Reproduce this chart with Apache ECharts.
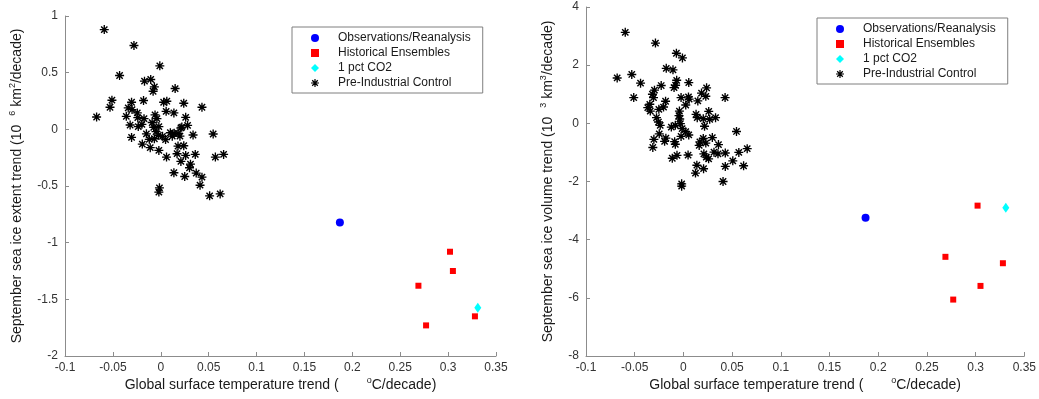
<!DOCTYPE html>
<html>
<head>
<meta charset="utf-8">
<script src="https://cdn.jsdelivr.net/npm/echarts@6/dist/echarts.min.js"></script>
<style>
  html, body { margin: 0; padding: 0; background: #fff; }
  #chart { width: 1039px; height: 399px; }
</style>
</head>
<body>
<div id="chart"></div>
<script>
// Series names shared by both panels
const seriesNames = ['Observations/Reanalysis', 'Historical Ensembles', '1 pct CO2', 'Pre-Industrial Control'];

// Global surface temperature trends (°C/decade)
const obsX = [0.187];
const histX = [0.269, 0.277, 0.302, 0.305, 0.328];
const co2X = [0.331];

// September sea ice extent trends (10^6 km^2/decade)
const obsExtent = [-0.823];
const histExtent = [-1.38, -1.73, -1.08, -1.25, -1.65];
const co2Extent = [-1.575];

// September sea ice volume trends (10^3 km^3/decade)
const obsVolume = [-3.25];
const histVolume = [-4.59, -6.06, -2.83, -5.59, -4.81];
const co2Volume = [-2.90];

// Pre-industrial control segments: [temperature trend, extent trend]
const piExtent = [
  [-0.059, 0.88], [-0.028, 0.74], [-0.001, 0.56], [-0.043, 0.475], [-0.017, 0.425],
  [-0.0105, 0.44], [-0.0067, 0.375], [-0.008, 0.336], [0.015, 0.36], [-0.051, 0.257],
  [-0.053, 0.195], [-0.067, 0.109], [-0.0305, 0.239], [-0.018, 0.254], [0.003, 0.239],
  [0.0063, 0.248], [0.024, 0.23], [0.043, 0.195], [-0.034, 0.189], [-0.030, 0.174],
  [-0.0245, 0.145], [-0.036, 0.115], [-0.024, 0.103], [-0.0175, 0.094], [-0.006, 0.127],
  [-0.004, 0.094], [0.0056, 0.159], [0.0137, 0.145], [0.026, 0.106], [-0.032, 0.038],
  [-0.0235, 0.024], [-0.0197, 0.044], [-0.0074, 0.018], [-0.002, 0.024], [0.028, 0.035],
  [0.021, 0.012], [0.018, -0.035], [-0.0025, -0.053], [0.0018, -0.062], [-0.0067, -0.083],
  [-0.012, -0.088], [-0.0305, -0.071], [0.014, -0.035], [0.0337, -0.05], [0.0547, -0.041],
  [-0.0193, -0.13], [-0.011, -0.162], [-0.002, -0.186], [0.006, -0.245], [0.018, -0.148],
  [0.024, -0.145], [0.017, -0.215], [0.026, -0.23], [0.036, -0.221], [0.021, -0.283],
  [0.031, -0.307], [0.030, -0.339], [0.057, -0.245], [0.0656, -0.221], [0.0137, -0.383],
  [0.025, -0.416], [0.037, -0.386], [0.043, -0.422], [0.041, -0.493], [-0.0014, -0.516],
  [-0.002, -0.554], [0.051, -0.587], [0.062, -0.57], [-0.005, -0.02], [0.010, -0.03],
  [0.020, -0.06], [0.005, -0.09], [-0.015, -0.04], [0.022, 0.02], [0.012, -0.06],
  [-0.009, 0.06]
];

// Pre-industrial control segments: [temperature trend, volume trend]
const piVolume = [
  [-0.0597, 3.13], [-0.0287, 2.76], [-0.0072, 2.41], [-0.001, 2.25], [-0.0176, 1.89],
  [-0.0107, 1.84], [-0.068, 1.56], [-0.053, 1.68], [-0.044, 1.38], [-0.051, 0.886],
  [-0.0069, 1.48], [-0.008, 1.31], [-0.0096, 1.23], [0.0055, 1.40], [0.0238, 1.22],
  [0.0186, 1.04], [0.023, 0.93], [0.0428, 0.886], [0.0148, 0.77], [0.0052, 0.908],
  [0.0059, 0.83], [-0.0024, 0.886], [-0.0228, 1.30], [-0.0297, 1.14], [-0.0318, 1.0],
  [-0.0307, 0.886], [-0.0183, 0.76], [0.0024, 0.63], [-0.0366, 0.54], [-0.034, 0.42],
  [-0.0252, 0.48], [-0.0204, 0.56], [-0.0041, 0.42], [-0.0045, 0.265], [-0.0276, 0.195],
  [-0.0256, 0.045], [-0.0238, -0.07], [0.026, 0.41], [0.013, 0.31], [0.0142, 0.195],
  [0.0204, 0.16], [0.027, 0.14], [0.033, 0.195], [0.0217, -0.10], [-0.0038, 0.15],
  [-0.0031, -0.01], [-0.0124, -0.13], [-0.0083, -0.07], [-0.0013, -0.18], [0.0024, -0.29],
  [0.0055, -0.40], [-0.0024, -0.45], [-0.0248, -0.36], [-0.018, -0.51], [-0.0303, -0.55],
  [-0.0193, -0.62], [-0.009, -0.63], [-0.0314, -0.83], [-0.0083, -0.72], [0.0169, -0.64],
  [0.0204, -0.52], [0.0297, -0.49], [0.023, -0.68], [0.0162, -0.76], [0.036, -0.73],
  [0.0545, -0.28], [0.0048, -1.09], [-0.0066, -1.10], [-0.0114, -1.20], [0.021, -1.05],
  [0.0235, -1.16], [0.0259, -1.22], [0.0314, -0.99], [0.0355, -1.05], [0.043, -1.02],
  [0.0569, -1.0], [0.0655, -0.87], [0.0507, -1.29], [0.0138, -1.44], [0.0207, -1.56],
  [0.0124, -1.71], [0.043, -1.48], [0.0618, -1.46], [0.0407, -2.0], [-0.0018, -2.08],
  [-0.0018, -2.16], [-0.0345, 0.655]
];

// Axis ranges and tick steps
const xRange = [-0.1, 0.35], xStep = 0.05;
const extentRange = [-2, 1], extentStep = 0.5;
const volumeRange = [-8, 4], volumeStep = 2;

// Eight-spoke asterisk marker with a solid hub
const ASTERISK = 'path://M8.5 0L11.5 0L11.5 20L8.5 20Z M0 8.5L20 8.5L20 11.5L0 11.5Z ' +
  'M4.1 1.9L18.1 15.9L15.9 18.1L1.9 4.1Z M15.9 1.9L18.1 4.1L4.1 18.1L1.9 15.9Z ' +
  'M6 6L14 6L14 14L6 14Z';

const FONT = '"Liberation Sans", Arial, Helvetica, sans-serif';
const AXIS_GRAY = '#8c8c8c';
const TEXT_GRAY = '#333333';

const pair = (xs, ys) => xs.map((x, i) => [x, ys[i]]);

const richBase = {
  t: { fontSize: 14, fontFamily: FONT, color: '#1a1a1a', lineHeight: 18 },
  sup: { fontSize: 9, fontFamily: FONT, color: '#1a1a1a', lineHeight: 9, verticalAlign: 'top' },
  gap: { width: 28 },
  gap2: { width: 9 }
};

function xAxisFor(idx) {
  return {
    type: 'value', gridIndex: idx, min: xRange[0], max: xRange[1], interval: xStep,
    name: '{t|Global surface temperature trend (}{gap| }{sup|o}{t|C/decade)}',
    nameLocation: 'middle', nameGap: 20, nameMoveOverlap: false,
    nameTextStyle: { rich: richBase },
    splitLine: { show: false },
    axisLine: { onZero: false, lineStyle: { color: AXIS_GRAY, width: 1 } },
    axisTick: { inside: true, length: 4, lineStyle: { color: AXIS_GRAY } },
    axisLabel: { color: TEXT_GRAY, fontSize: 12, fontFamily: FONT, margin: 6 }
  };
}

function yAxisFor(idx, range, step, nameText, gap) {
  return {
    type: 'value', gridIndex: idx, min: range[0], max: range[1], interval: step,
    name: nameText, nameLocation: 'middle', nameGap: gap, nameRotate: 90,
    nameTextStyle: { rich: richBase },
    splitLine: { show: false },
    axisLine: { show: true, onZero: false, lineStyle: { color: AXIS_GRAY, width: 1 } },
    axisTick: { show: true, inside: true, length: 4, lineStyle: { color: AXIS_GRAY } },
    axisLabel: { color: TEXT_GRAY, fontSize: 12, fontFamily: FONT, margin: 7 }
  };
}

function panelSeries(idx, obsY, histY, co2Y, piPts) {
  const solid = (c) => ({ color: c, opacity: 1 });
  return [
    { name: seriesNames[0], type: 'scatter', xAxisIndex: idx, yAxisIndex: idx,
      symbol: 'circle', symbolSize: 8, itemStyle: solid('#0000ff'), data: pair(obsX, obsY) },
    { name: seriesNames[1], type: 'scatter', xAxisIndex: idx, yAxisIndex: idx,
      symbol: 'rect', symbolSize: 6, itemStyle: solid('#ff0000'), data: pair(histX, histY) },
    { name: seriesNames[2], type: 'scatter', xAxisIndex: idx, yAxisIndex: idx,
      symbol: 'diamond', symbolSize: [7, 10], itemStyle: solid('#00ffff'), data: pair(co2X, co2Y) },
    { name: seriesNames[3], type: 'scatter', xAxisIndex: idx, yAxisIndex: idx, z: 1,
      symbol: ASTERISK, symbolSize: 9, itemStyle: solid('#000000'), data: piPts }
  ];
}

function legendAt(left, top) {
  return {
    orient: 'vertical', left: left, top: top,
    padding: [4, 12, 3, 19], itemGap: 1, itemWidth: 8, itemHeight: 8,
    borderColor: '#7f7f7f', borderWidth: 1, backgroundColor: '#ffffff',
    selectedMode: false,
    textStyle: { fontSize: 12, fontFamily: FONT, color: '#1a1a1a', lineHeight: 14, padding: [0, 0, 0, 14] },
    data: [
      { name: seriesNames[0], icon: 'circle', itemStyle: { opacity: 1 } },
      { name: seriesNames[1], icon: 'rect', itemStyle: { opacity: 1 } },
      { name: seriesNames[2], icon: 'diamond', itemStyle: { opacity: 1 } },
      { name: seriesNames[3], icon: ASTERISK, itemStyle: { opacity: 1 } }
    ]
  };
}

const chart = echarts.init(document.getElementById('chart'), null, { renderer: 'canvas' });
chart.setOption({
  backgroundColor: '#ffffff',
  animation: false,
  grid: [
    { left: 65, right: 543, top: 16, bottom: 43 },
    { left: 586, right: 14, top: 7, bottom: 43 }
  ],
  legend: [legendAt(292, 27), legendAt(817, 18)],
  xAxis: [xAxisFor(0), xAxisFor(1)],
  yAxis: [
    yAxisFor(0, extentRange, extentStep,
      '{t|September sea ice extent trend (10}{gap2| }{sup|6}{t| km}{sup|2}{t|/decade)}', 39),
    yAxisFor(1, volumeRange, volumeStep,
      '{t|September sea ice volume trend (10}{gap2| }{sup|3}{t| km}{sup|3}{t|/decade)}', 29)
  ],
  series: [].concat(
    panelSeries(0, obsExtent, histExtent, co2Extent, piExtent),
    panelSeries(1, obsVolume, histVolume, co2Volume, piVolume)
  )
});
</script>
</body>
</html>
